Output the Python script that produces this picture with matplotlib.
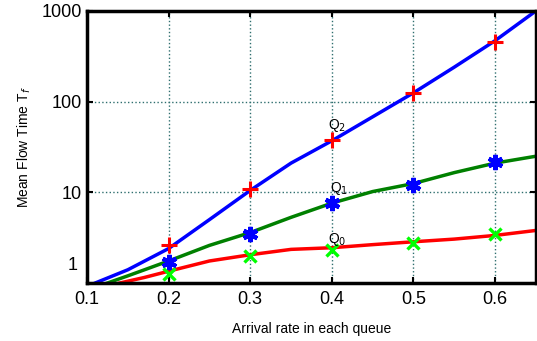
import numpy as np
import matplotlib.pyplot as plt

plt.rcParams['font.family'] = ['Liberation Sans', 'DejaVu Sans']

# curvas (modelo)
x_q2 = [0.11, 0.15, 0.2, 0.25, 0.3, 0.35, 0.4, 0.45, 0.5, 0.55, 0.6, 0.65]
y_q2 = [1.0, 1.4, 2.4, 5.0, 10.5, 21, 37, 68, 125, 240, 470, 1000]
x_q1 = [0.125, 0.15, 0.2, 0.25, 0.3, 0.35, 0.4, 0.45, 0.5, 0.55, 0.6, 0.65]
y_q1 = [1.0, 1.2, 1.75, 2.6, 3.6, 5.3, 7.6, 10.2, 12.5, 16.5, 21, 25]
x_q0 = [0.14, 0.17, 0.2, 0.25, 0.3, 0.35, 0.4, 0.45, 0.5, 0.55, 0.6, 0.65]
y_q0 = [1.0, 1.15, 1.35, 1.75, 2.05, 2.35, 2.45, 2.65, 2.85, 3.05, 3.35, 3.8]

# puntos de simulacion
x_sim = [0.2, 0.3, 0.4, 0.5, 0.6]
sim_q2 = [2.6, 11, 38, 125, 460]
sim_q1 = [1.7, 3.5, 7.6, 12, 21.5]
sim_q0 = [1.25, 2.0, 2.3, 2.75, 3.5]

fig = plt.figure(figsize=(5.37, 3.41), dpi=100)
ax = fig.add_axes([0.162, 0.170, 0.836, 0.798])

ax.plot(x_q2, y_q2, color='#0000ff', lw=2.5)
ax.plot(x_q1, y_q1, color='#008000', lw=2.5)
ax.plot(x_q0, y_q0, color='#ff0000', lw=2.5)

ax.plot(x_sim, sim_q2, ls='none', marker='+', ms=11, mew=2.2, color='#ff0000')
ax.plot(x_sim, sim_q1, ls='none', marker=(6, 2, 0), ms=11, mew=3, color='#0000ff')
ax.plot(x_sim, sim_q0, ls='none', marker='x', ms=8, mew=2.4, color='#00ff00')

ax.text(0.395, 50, r'Q$_2$', fontsize=10)
ax.text(0.398, 10.2, r'Q$_1$', fontsize=10)
ax.text(0.395, 2.75, r'Q$_0$', fontsize=10)

ax.set_yscale('log')
ax.set_xlim(0.1, 0.65)
ax.set_ylim(1, 1000)
ax.set_xticks([0.1, 0.2, 0.3, 0.4, 0.5, 0.6])
ax.set_xticklabels(['0.1', '0.2', '0.3', '0.4', '0.5', '0.6'])
ax.set_yticks([1, 10, 100, 1000])
ax.set_yticklabels(['', '10', '100', '1000'])
ax.yaxis.set_minor_locator(plt.NullLocator())
ax.text(-0.02, 0.035, '1', transform=ax.transAxes, fontsize=13, ha='right', va='bottom')

ax.tick_params(axis='both', labelsize=13, direction='in', length=4, width=1.5,
               right=True, top=True)
ax.tick_params(axis='x', pad=6)
ax.grid(True, ls=':', color='#2f6f6f', lw=1)

for s in ax.spines.values():
    s.set_linewidth(2.5)

ax.set_xlabel('Arrival rate in each queue', fontsize=10, labelpad=10)
ax.set_ylabel('Mean Flow Time T$_f$', fontsize=10, labelpad=6)

plt.savefig('out.png', dpi=100)
